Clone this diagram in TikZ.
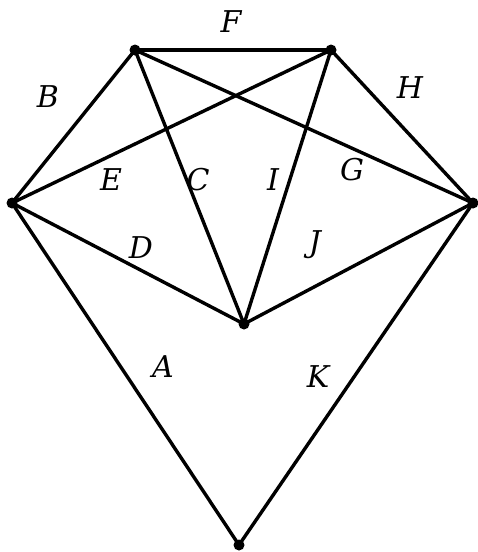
\documentclass[tikz,border=0pt]{standalone}
\usepackage{fontspec}
\setmainfont{DejaVu Serif}
\begin{document}
\begin{tikzpicture}[x=1pt,y=-1pt,
  vtx/.style={circle,fill=black,inner sep=0pt,minimum size=11pt},
  edge/.style={line width=3.4pt},
  lab/.style={font=\fontsize{30}{30}\selectfont\itshape}]
\useasboundingbox (0,0) rectangle (477,552);
\node[vtx] (tl) at (135,50) {};
\node[vtx] (tr) at (331,50) {};
\node[vtx] (l) at (12,203) {};
\node[vtx] (r) at (473,203) {};
\node[vtx] (c) at (244,324) {};
\node[vtx] (b) at (239,545) {};
\draw[edge] (tl.center) -- (tr.center);
\draw[edge] (tl.center) -- (l.center);
\draw[edge] (tr.center) -- (r.center);
\draw[edge] (l.center) -- (tr.center);
\draw[edge] (tl.center) -- (c.center);
\draw[edge] (tr.center) -- (c.center);
\draw[edge] (tl.center) -- (r.center);
\draw[edge] (l.center) -- (c.center);
\draw[edge] (c.center) -- (r.center);
\draw[edge] (l.center) -- (b.center);
\draw[edge] (r.center) -- (b.center);
\node[lab] (lF) at (231,22) {F};
\node[lab] (lB) at (48,97) {B};
\node[lab] (lH) at (410,88) {H};
\node[lab] (lE) at (111,180) {E};
\node[lab] (lC) at (198,180) {C};
\node[lab] (lI) at (273,180) {I};
\node[lab] (lG) at (352,170) {G};
\node[lab] (lD) at (141,248) {D};
\node[lab] (lJ) at (315,245) {J};
\node[lab] (lA) at (163,367) {A};
\node[lab] (lK) at (318,377) {K};
\end{tikzpicture}
\end{document}
